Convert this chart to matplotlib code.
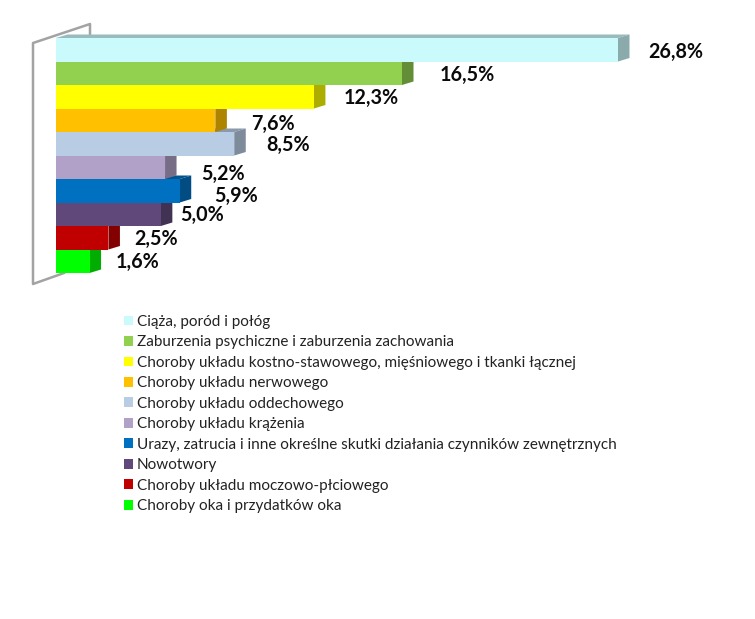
"""Bar chart with fake 3D depth, hospital causes split by disease group."""
import matplotlib

matplotlib.use("Agg")
import matplotlib.pyplot as plt
from matplotlib.colors import to_rgb
from matplotlib.lines import Line2D
from matplotlib.patches import Patch, Polygon

plt.rcParams["font.family"] = ["Lato", "DejaVu Sans"]

categories = [
    "Ciąża, poród i połóg",
    "Zaburzenia psychiczne i zaburzenia zachowania",
    "Choroby układu kostno-stawowego, mięśniowego i tkanki łącznej",
    "Choroby układu nerwowego",
    "Choroby układu oddechowego",
    "Choroby układu krążenia",
    "Urazy, zatrucia i inne określne skutki działania czynników zewnętrznych",
    "Nowotwory",
    "Choroby układu moczowo-płciowego",
    "Choroby oka i przydatków oka",
]
values = [26.8, 16.5, 12.3, 7.6, 8.5, 5.2, 5.9, 5.0, 2.5, 1.6]
colors = ["#CBFAFD", "#92D050", "#FFFF00", "#FFC000", "#B8CCE4",
          "#B1A0C7", "#0070C0", "#60497A", "#C00000", "#00FF00"]
# hand placed labels in the original, pixels from the bar end
label_dx = [58, 65, 57, 58, 54, 58, 56, 41, 48, 48]
label_dy = [0, 0, -1, 2, -1, 5, 3, -1, -1, -1]

W, H = 755, 619
X0, PX_PER_PCT = 56, 20.97
Y0, PITCH = 49.75, 23.5
DEPTH_X, DEPTH_Y = 11.5 / PX_PER_PCT, 3.5 / PITCH
WALL = "#A3A3A3"


def shade(color, factor):
    return tuple(c * factor for c in to_rgb(color))


fig = plt.figure(figsize=(W / 100, H / 100), dpi=100)
ax = fig.add_axes([0, 0, 1, 1])
ax.set_xlim(-X0 / PX_PER_PCT, (W - X0) / PX_PER_PCT)
ax.set_ylim((H - Y0) / PITCH, -Y0 / PITCH)
ax.axis("off")

# side wall, drawn in figure pixels (y from the top)
wall = [(90, 36), (90, 24), (33, 43), (33, 284), (64, 273)]
ax.add_line(Line2D([p[0] / W for p in wall], [1 - p[1] / H for p in wall],
                   transform=ax.transAxes, color=WALL, linewidth=1.8, zorder=1))

half = 0.5
# bottom bar first so the front of the bar above hides its top face
for i in reversed(range(len(values))):
    v = values[i]
    top, bottom = i - half, i + half
    ax.add_patch(Polygon([(0, top), (DEPTH_X, top - DEPTH_Y), (v + DEPTH_X, top - DEPTH_Y), (v, top)],
                         facecolor=shade(colors[i], 0.75), edgecolor="none", zorder=2 + (9 - i)))
    ax.add_patch(Polygon([(v, top), (v + DEPTH_X, top - DEPTH_Y), (v + DEPTH_X, bottom - DEPTH_Y), (v, bottom)],
                         facecolor=shade(colors[i], 0.68), edgecolor="none", zorder=2 + (9 - i)))
    ax.barh(i, v, height=2 * half, color=colors[i], zorder=2 + (9 - i))

for i, v in enumerate(values):
    ax.annotate(f"{v:.1f}%".replace(".", ","), (v, i), xytext=(label_dx[i], -label_dy[i] - 2),
                textcoords="offset pixels", ha="center", va="center",
                fontsize=14.2, fontweight="bold", color="#0A0A0A", zorder=20)

handles = [Patch(facecolor=c, edgecolor="none", label=n) for c, n in zip(colors, categories)]
ax.legend(handles=handles, loc="upper left", bbox_to_anchor=(110 / W, 1 - 301 / H),
          frameon=False, fontsize=11, handlelength=0.6, handleheight=0.6,
          handletextpad=0.26, labelspacing=0.425, labelcolor="#222222")

fig.savefig("out.png", dpi=100)
